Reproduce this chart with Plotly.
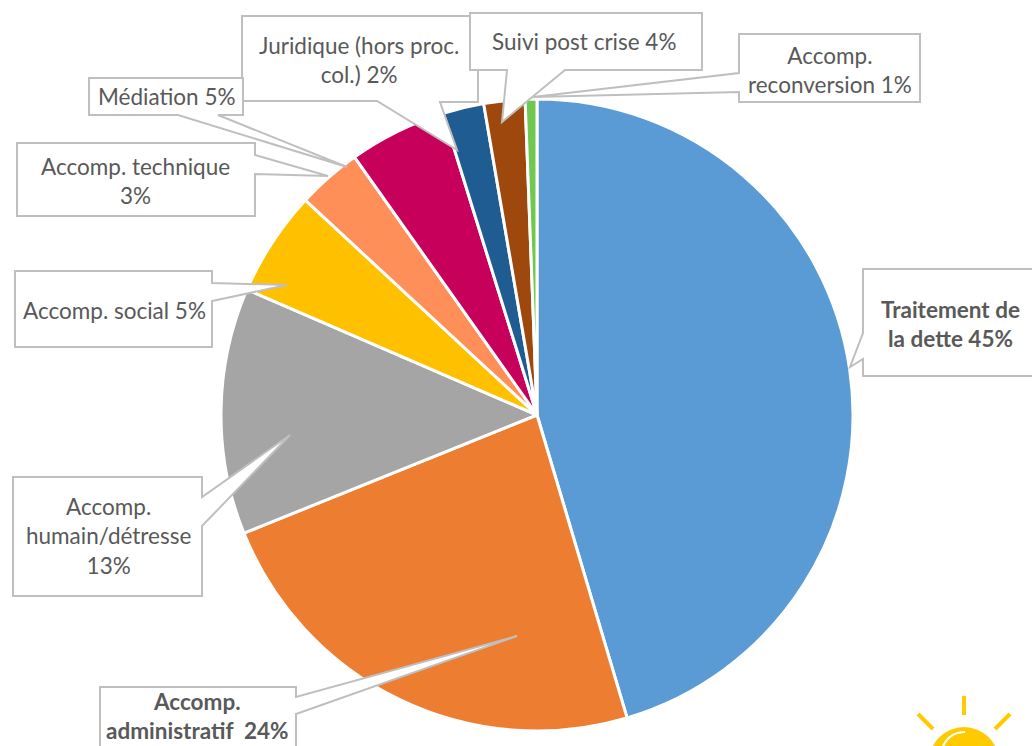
import plotly.graph_objects as go

W, H = 1032, 746

categories = ["Traitement de la dette", "Accomp. administratif", "Accomp. humain/détresse",
              "Accomp. social", "Accomp. technique", "Médiation",
              "Juridique (hors proc. col.)", "Suivi post crise", "Accomp. reconversion"]
values = [45.4, 23.5, 12.6, 5.4, 3.3, 5.0, 2.1, 2.1, 0.6]
colors = ["#5B9BD5", "#ED7D31", "#A5A5A5", "#FFC000", "#FF8F58", "#C7005B",
          "#1F5C91", "#9E480E", "#70C850"]

FONT = "Lato, Carlito, sans-serif"
TEXT = "#595959"
BORDER = "#BFBFBF"


def px(x):
    return x / W


def py(y):
    return 1 - y / H


def poly(pts):
    return "M " + " L ".join(f"{px(x):.5f},{py(y):.5f}" for x, y in pts) + " Z"


# callout outlines (pixel positions on the page), drawn back to front
callouts = [
    [(242, 16), (478, 16), (478, 102), (440, 102), (457, 150), (377, 101), (242, 101)],
    [(470, 13), (702, 13), (702, 70), (565, 70), (502, 122), (507, 70), (470, 70)],
    [(739, 34), (920, 34), (920, 102), (739, 102), (739, 92), (533, 97), (739, 73)],
    [(89, 78), (243, 78), (243, 115), (218, 115), (347, 167), (178, 115), (89, 115)],
    [(17, 143), (255, 143), (255, 155), (328, 176), (255, 174), (255, 216), (17, 216)],
    [(15, 271), (212, 271), (212, 283), (287, 285), (212, 301), (212, 347), (15, 347)],
    [(13, 477), (202, 477), (202, 497), (290, 435), (202, 526), (202, 596), (13, 596)],
    [(100, 687), (296, 687), (296, 697), (517, 636), (296, 714), (296, 760), (100, 760)],
    [(863, 269), (1040, 269), (1040, 376), (863, 376), (863, 359), (850, 367), (863, 333)],
]

label_texts = [
    ("Juridique (hors proc.<br>col.) 2%", 359, 60, False),
    ("Suivi post crise 4%", 584, 41, False),
    ("Accomp.<br>reconversion 1%", 830, 70, False),
    ("Médiation 5%", 166, 97, False),
    ("Accomp. technique<br>3%", 135, 181, False),
    ("Accomp. social 5%", 114, 310, False),
    ("Accomp.<br>humain/détresse<br>13%", 108, 536, False),
    ("Accomp.<br>administratif  24%", 197, 716, True),
    ("Traitement de<br>la dette 45%", 950, 324, True),
]

cx, cy, r = 537, 415, 316

fig = go.Figure(go.Pie(
    labels=categories,
    values=values,
    sort=False,
    direction="clockwise",
    rotation=0,
    textinfo="none",
    hoverinfo="label+percent",
    marker=dict(colors=colors, line=dict(color="#FFFFFF", width=3)),
    domain=dict(x=[px(cx - r), px(cx + r)], y=[py(cy + r), py(cy - r)]),
    showlegend=False,
))

shapes = [dict(type="path", path=poly(c), xref="paper", yref="paper",
               fillcolor="#FFFFFF", line=dict(color=BORDER, width=2), layer="above")
          for c in callouts]

# small sun in the lower-right corner
SUN = "#FFCB00"
for x0, y0, x1, y1 in [(964, 696, 964, 715), (918, 714, 933, 729), (1010, 714, 995, 729)]:
    shapes.append(dict(type="line", xref="paper", yref="paper",
                       x0=px(x0), y0=py(y0), x1=px(x1), y1=py(y1),
                       line=dict(color=SUN, width=4), layer="above"))
shapes.append(dict(type="circle", xref="paper", yref="paper",
                   x0=px(929), x1=px(999), y0=py(727), y1=py(797),
                   fillcolor=SUN, line=dict(width=0), layer="above"))
shapes.append(dict(type="path", xref="paper", yref="paper",
                   path=f"M {px(965):.5f},{py(732):.5f} Q {px(950):.5f},{py(732):.5f} {px(943):.5f},{py(746):.5f}",
                   line=dict(color="#FFFFFF", width=2), layer="above"))

annotations = [dict(text=f"<b>{t}</b>" if bold else t, x=px(x), y=py(y),
                    xref="paper", yref="paper", xanchor="center", yanchor="middle",
                    align="center", showarrow=False,
                    font=dict(family=FONT, size=22.5, color=TEXT))
               for t, x, y, bold in label_texts]

fig.update_layout(
    width=W, height=H, autosize=False,
    margin=dict(l=0, r=0, t=0, b=0),
    paper_bgcolor="#FFFFFF",
    shapes=shapes,
    annotations=annotations,
)

fig.write_html("out.html", config={"displayModeBar": False},
               post_script="document.body.style.margin='0';document.body.style.overflow='hidden';")
